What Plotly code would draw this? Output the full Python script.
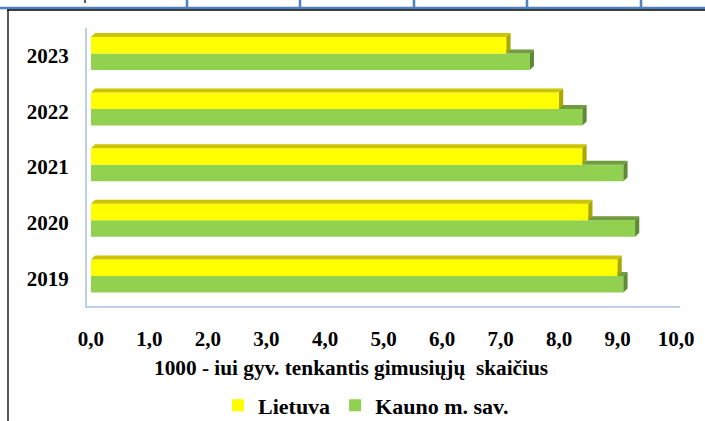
import plotly.graph_objects as go

# ---- data ----
years = ["2019", "2020", "2021", "2022", "2023"]
lietuva = [9.0, 8.5, 8.4, 8.0, 7.1]
kaunas = [9.1, 9.3, 9.1, 8.4, 7.5]
x_ticks = [0, 1, 2, 3, 4, 5, 6, 7, 8, 9, 10]
series_names = ["Lietuva", "Kauno m. sav."]
x_title = "1000 - iui gyv. tenkantis gimusiųjų\u00a0 skaičius"

# ---- geometry / style ----
W_PX, H_PX = 705, 421
L, R, T, B = 87, 25, 28, 115
pw, ph = W_PX - L - R, H_PX - T - B
XR = [-0.068, 10.068]
YR = [-0.5, 4.5]
ux = pw / (XR[1] - XR[0])
uy = ph / (YR[1] - YR[0])
DX = 4.2 / ux        # 3D depth in data units
DY = 4.0 / uy
BW = 16.5 / uy       # bar thickness
SH = 2.3 / uy        # shift of the pair above the tick

YEL, YEL_TOP, YEL_SIDE = "#FFFF00", "#CCC400", "#A8A800"
GRN, GRN_TOP, GRN_SIDE = "#92D050", "#6E9C3E", "#5E8A34"
FONT = "Liberation Serif"
BOLD = dict(family=FONT, size=21, color="black", weight="bold")

pos = list(range(len(years)))

fig = go.Figure()

fig.add_trace(go.Bar(y=pos, x=kaunas, orientation="h", base=0, width=BW,
                     offset=SH - BW, name=series_names[1], marker_color=GRN,
                     marker_line_width=0, legendrank=2))
fig.add_trace(go.Bar(y=pos, x=lietuva, orientation="h", base=0, width=BW,
                     offset=SH, name=series_names[0], marker_color=YEL,
                     marker_line_width=0, legendrank=1))


def poly_trace(polys, color):
    xs, ys = [], []
    for p in polys:
        for (a, b) in p:
            xs.append(a)
            ys.append(b)
        xs.append(p[0][0])
        ys.append(p[0][1])
        xs.append(None)
        ys.append(None)
    return go.Scatter(x=xs, y=ys, mode="lines", fill="toself", fillcolor=color,
                      line=dict(width=0, color=color), showlegend=False,
                      hoverinfo="skip")


g_top, g_side, y_side, y_top = [], [], [], []
for i, (l, k) in enumerate(zip(lietuva, kaunas)):
    b = i + SH
    g_top.append([(min(l, k), b), (k, b), (k + DX, b + DY), (min(l, k), b + DY)])
    g_side.append([(k, b - BW), (k, b), (k + DX, b + DY), (k + DX, b - BW + DY)])
    y_side.append([(l, b), (l, b + BW), (l + DX, b + BW + DY), (l + DX, b + DY)])
    y_top.append([(0, b + BW), (l, b + BW), (l + DX, b + BW + DY), (DX, b + BW + DY)])

fig.add_trace(poly_trace(g_top, GRN_TOP))
fig.add_trace(poly_trace(g_side, GRN_SIDE))
fig.add_trace(poly_trace(y_side, YEL_SIDE))
fig.add_trace(poly_trace(y_top, YEL_TOP))


# ---- page decorations (document table border around the chart) ----
def px(xp):
    return (xp - L) / pw


def py(yp):
    return (T + ph - yp) / ph


shapes = [
    dict(type="line", xref="paper", yref="paper", x0=px(0), x1=px(705), y0=py(8), y1=py(8),
         line=dict(color="#4F81BD", width=2.5)),
    dict(type="line", xref="paper", yref="paper", x0=px(7), x1=px(705), y0=py(10), y1=py(10),
         line=dict(color="#000000", width=1.3)),
    dict(type="line", xref="paper", yref="paper", x0=px(8), x1=px(8), y0=py(10), y1=py(421),
         line=dict(color="#000000", width=1.3)),
    dict(type="line", xref="paper", yref="paper", x0=px(85), x1=px(85), y0=py(0), y1=py(3),
         line=dict(color="#000000", width=1.3)),
]
for xv in [187, 300, 414, 527, 641]:
    shapes.append(dict(type="line", xref="paper", yref="paper", x0=px(xv), x1=px(xv),
                       y0=py(0), y1=py(8), line=dict(color="#4F81BD", width=2.5)))

fig.update_layout(
    width=W_PX, height=H_PX, autosize=False,
    margin=dict(l=L, r=R, t=T, b=B, pad=0, autoexpand=False),
    paper_bgcolor="white", plot_bgcolor="white",
    barmode="overlay",
    separators=", ",
    font=BOLD,
    showlegend=True,
    legend=dict(orientation="h", x=px(366), xanchor="center", y=py(405.5), yanchor="middle",
                font=dict(BOLD, size=22),
                itemwidth=30, traceorder="normal", bgcolor="rgba(0,0,0,0)"),
    shapes=shapes,
    annotations=[dict(text=x_title, xref="paper", yref="paper", x=px(351), y=py(368),
                      xanchor="center", yanchor="middle", showarrow=False,
                      font=dict(BOLD, size=21.3))],
    xaxis=dict(range=XR, tickvals=x_ticks, tickformat=".1f", showgrid=False, zeroline=False,
               showline=True, linecolor="#BCD0EA", linewidth=2, ticks="",
               ticklabelstandoff=13, tickfont=BOLD, automargin=False),
    yaxis=dict(range=YR, tickvals=pos, ticktext=years, showgrid=False, zeroline=False,
               showline=True, linecolor="#BCD0EA", linewidth=2, ticks="",
               ticklabelstandoff=12, tickfont=BOLD, automargin=False),
)

fig.write_html("out.html", config={"displayModeBar": False},
               post_script="document.body.style.margin='0px';")
